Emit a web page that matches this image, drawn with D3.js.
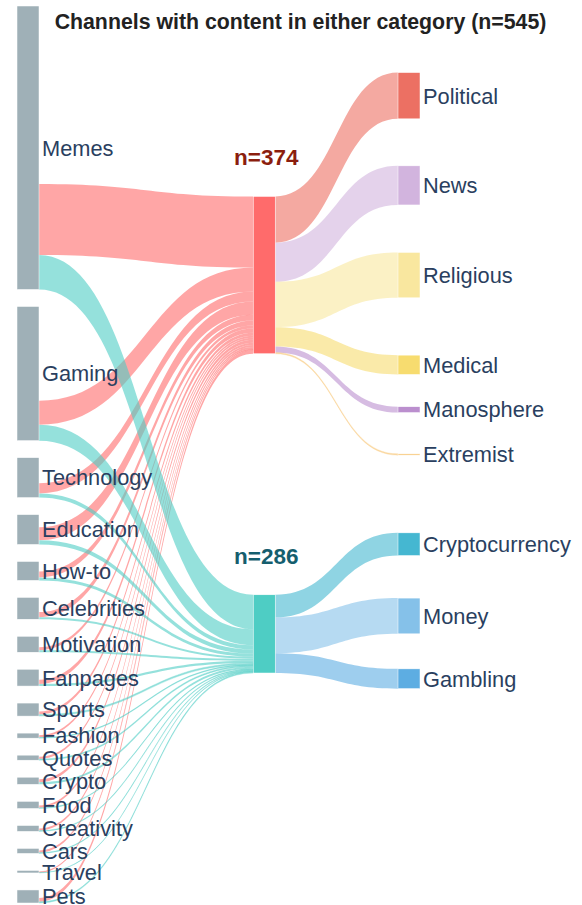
<!DOCTYPE html>
<html>
<head>
<meta charset="utf-8">
<script src="https://cdn.jsdelivr.net/npm/d3@7"></script>
<style>
  html, body { margin: 0; padding: 0; background: #fff; }
  svg { display: block; }
</style>
</head>
<body>
<svg id="chart"></svg>
<script>
// topics on the left (channel counts per topic)
const topics = ['Memes', 'Gaming', 'Technology', 'Education', 'How-to', 'Celebrities', 'Motivation',
    'Fanpages', 'Sports', 'Fashion', 'Quotes', 'Crypto', 'Food', 'Creativity', 'Cars', 'Travel', 'Pets'];
const topicTotals = [674, 319, 95, 71, 45, 52, 38, 40, 31, 12, 12, 17, 17, 14, 12, 6, 31];
// links topic -> group
const toPolitical = [169, 57, 24, 31, 14, 12, 7, 10, 7, 5, 5, 7, 5, 5, 5, 2, 9];
const toMoney = [82, 38, 10, 10, 7, 5, 5, 5, 4, 2, 3, 5, 2, 2, 2, 1, 3];

// groups in the middle
const groupLabels = ['n=374', 'n=286'];

// categories on the right
const politicalCats = ['Political', 'News', 'Religious', 'Medical', 'Manosphere', 'Extremist'];
const politicalVals = [110, 93, 108, 46, 14, 3];
const moneyCats = ['Cryptocurrency', 'Money', 'Gambling'];
const moneyVals = [54, 85, 47];

const title = 'Channels with content in either category (n=545)';

// plotly-like node.y (centre fraction) for the fixed columns
const groupY = [0.3, 0.7];
const politicalY = [0.1, 0.2, 0.3, 0.4, 0.45, 0.5];
const moneyY = [0.6, 0.68, 0.75];

// colours
const groupColors = ['#FF6B6B', '#4ECDC4'];
const politicalColors = ['#EC7063', '#D2B4DE', '#F9E79F', '#F7DC6F', '#BB8FCE', '#F8C471'];
const moneyColors = ['#45B7D1', '#85C1E9', '#5DADE2'];
const groupTextColors = ['#8B1E0E', '#155E6E'];

const W = 582, H = 905;
const topY = 6, bottomY = 903, pad = 17, nodeW = 22;

let svg = d3.select('#chart').attr('width', W).attr('height', H);

// value -> pixel
let k = d3.scaleLinear()
    .domain([0, d3.sum(topicTotals)])
    .range([0, (bottomY - topY) - pad * (topics.length - 1)]);
// fraction -> y
let fy = d3.scaleLinear().domain([0, 1]).range([topY, bottomY]);
// column -> x
let fx = d3.scaleLinear().domain([0, 1]).range([17, 398]);
const colX = [0, 0.62, 1];

// 左列节点
let y = topY;
let leftNodes = topics.map(function (name, i) {
    let n = {name: name, x0: fx(colX[0]), y0: y, y1: y + k(topicTotals[i]), color: '#9FB0B7'};
    y = n.y1 + pad;
    return n;
});

// 中间节点
let groupIn = [d3.sum(toPolitical), d3.sum(toMoney)];
let groupOut = [d3.sum(politicalVals), d3.sum(moneyVals)];
let midNodes = groupLabels.map(function (lab, i) {
    let h = k(Math.max(groupIn[i], groupOut[i]));
    let c = fy(groupY[i]);
    return {name: lab, x0: fx(colX[1]), y0: c - h / 2, y1: c + h / 2, color: groupColors[i]};
});

// 右列节点
function rightNodes(cats, vals, ys, cols) {
    return cats.map(function (name, i) {
        let h = k(vals[i]), c = fy(ys[i]);
        return {name: name, x0: fx(colX[2]), y0: c - h / 2, y1: c + h / 2, color: cols[i], value: vals[i]};
    });
}
let polNodes = rightNodes(politicalCats, politicalVals, politicalY, politicalColors);
let monNodes = rightNodes(moneyCats, moneyVals, moneyY, moneyColors);

// links
let links = [];
let inOff = midNodes.map(d => d.y0);
[toPolitical, toMoney].forEach(function (arr, g) {
    arr.forEach(function (v, i) {
        let src = leftNodes[i];
        let start = src.y1 - k(toPolitical[i] + toMoney[i]) + (g === 1 ? k(toPolitical[i]) : 0);
        links.push({
            x0: src.x0 + nodeW, y0: start, x1: midNodes[g].x0, y1: inOff[g], w: k(v),
            color: d3.color(groupColors[g]).copy({opacity: 0.6}) + ''
        });
        inOff[g] += k(v);
    });
});
[polNodes, monNodes].forEach(function (nodes, g) {
    let off = midNodes[g].y0;
    nodes.forEach(function (n) {
        links.push({
            x0: midNodes[g].x0 + nodeW, y0: off, x1: n.x0, y1: n.y0, w: k(n.value),
            color: d3.color(n.color).copy({opacity: 0.6}) + ''
        });
        off += k(n.value);
    });
});

function bandPath(d) {
    let p = d3.path(), xm = (d.x0 + d.x1) / 2;
    p.moveTo(d.x0, d.y0);
    p.bezierCurveTo(xm, d.y0, xm, d.y1, d.x1, d.y1);
    p.lineTo(d.x1, d.y1 + d.w);
    p.bezierCurveTo(xm, d.y1 + d.w, xm, d.y0 + d.w, d.x0, d.y0 + d.w);
    p.closePath();
    return p.toString();
}

svg.append('g').selectAll('path')
    .data(links)
    .enter()
    .append('path')
    .attr('d', bandPath)
    .attr('fill', d => d.color)
    .attr('stroke', d => d.color)
    .attr('stroke-width', d => d.w < 2 ? 0.4 : 0);

let allNodes = leftNodes.concat(midNodes, polNodes, monNodes);
svg.append('g').selectAll('rect')
    .data(allNodes)
    .enter()
    .append('rect')
    .attr('x', d => d.x0)
    .attr('y', d => d.y0)
    .attr('width', nodeW)
    .attr('height', d => Math.max(0.8, d.y1 - d.y0))
    .attr('fill', d => d.color)
    .attr('stroke', '#fff')
    .attr('stroke-width', 0.5);

// labels
let labelNodes = leftNodes.concat(polNodes, monNodes);
svg.append('g').selectAll('text')
    .data(labelNodes)
    .enter()
    .append('text')
    .attr('x', d => d.x0 + nodeW + 3)
    .attr('y', d => (d.y0 + d.y1) / 2)
    .attr('dy', '0.36em')
    .attr('font-family', 'Liberation Sans, Arial, sans-serif')
    .attr('font-size', 21.8)
    .attr('fill', '#2A3F5F')
    .text(d => d.name);

// n= labels
svg.append('g').selectAll('text')
    .data(midNodes)
    .enter()
    .append('text')
    .attr('x', d => d.x0 + nodeW / 2 + 2)
    .attr('y', (d, i) => d.y0 - 31)
    .attr('text-anchor', 'middle')
    .attr('font-family', 'Liberation Sans, Arial, sans-serif')
    .attr('font-weight', 'bold')
    .attr('font-size', 22.5)
    .attr('fill', (d, i) => groupTextColors[i])
    .text(d => d.name);

svg.append('text')
    .attr('x', 300.5)
    .attr('y', 29)
    .attr('text-anchor', 'middle')
    .attr('font-family', 'Liberation Sans, Arial, sans-serif')
    .attr('font-weight', 'bold')
    .attr('font-size', 21.3)
    .attr('fill', '#222')
    .text(title);
</script>
</body>
</html>
